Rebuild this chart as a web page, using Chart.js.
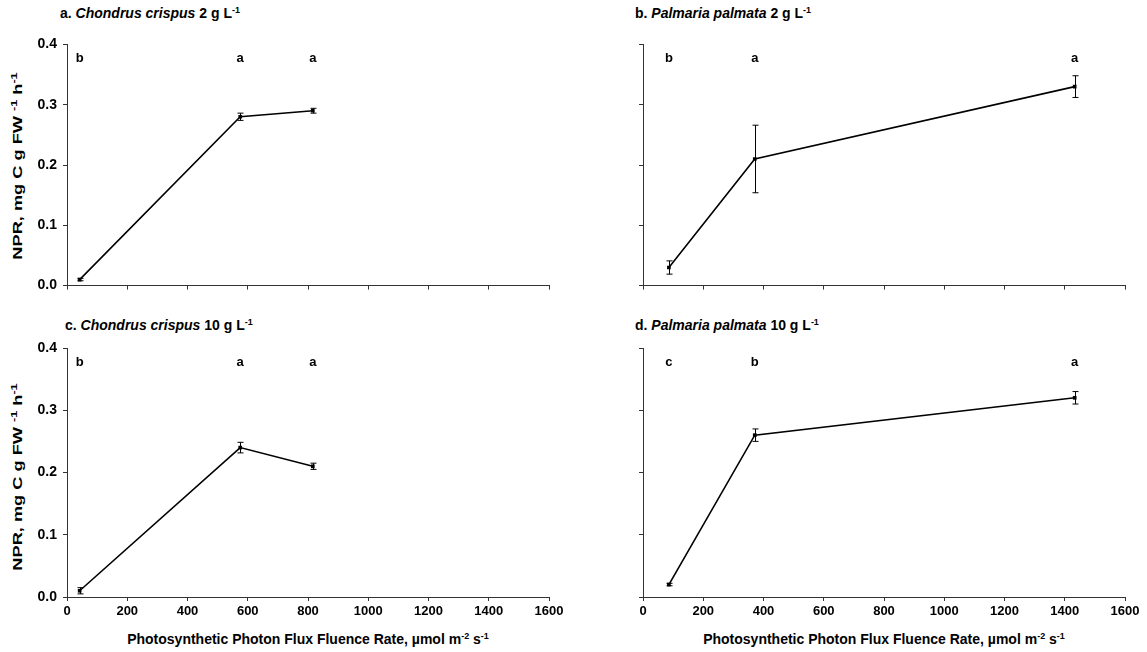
<!DOCTYPE html>
<html>
<head>
<meta charset="utf-8">
<script src="https://cdn.jsdelivr.net/npm/chart.js@4.4.0/dist/chart.umd.min.js"></script>
<style>
  html, body { margin: 0; padding: 0; background: #fff; }
  body { width: 1147px; height: 652px; position: relative; overflow: hidden;
         font-family: "Liberation Sans", Arial, sans-serif; color: #000; }
  .panel { position: absolute; }
  .title { position: absolute; font-weight: bold; font-size: 14px; white-space: nowrap; }
  .ytitle { position: absolute; font-weight: bold; font-size: 13px; white-space: nowrap;
            transform: translate(-50%, -50%) rotate(-90deg) scaleX(1.4); }
  .xtitle { position: absolute; font-weight: bold; font-size: 14px; white-space: nowrap;
            transform: translateX(-50%); }
  sup { font-size: 9px; vertical-align: 5px; line-height: 0; }
</style>
</head>
<body>

<div class="title" style="left:60px; top:5px">a. <i>Chondrus crispus</i> 2 g L<sup>-1</sup></div>
<div class="title" style="left:635px; top:5px">b. <i>Palmaria palmata</i> 2 g L<sup>-1</sup></div>
<div class="title" style="left:65px; top:317px">c. <i>Chondrus crispus</i> 10 g L<sup>-1</sup></div>
<div class="title" style="left:635px; top:317px">d. <i>Palmaria palmata</i> 10 g L<sup>-1</sup></div>

<div class="ytitle" style="left:17px; top:166px">NPR, mg C g FW <sup>-1</sup> h<sup>-1</sup></div>
<div class="ytitle" style="left:17px; top:477px">NPR, mg C g FW <sup>-1</sup> h<sup>-1</sup></div>

<div class="xtitle" style="left:308px; top:631px">Photosynthetic Photon Flux Fluence Rate, µmol m<sup>-2</sup> s<sup>-1</sup></div>
<div class="xtitle" style="left:884px; top:631px">Photosynthetic Photon Flux Fluence Rate, µmol m<sup>-2</sup> s<sup>-1</sup></div>

<div class="panel" style="left:0px; top:30px"><canvas id="panelA" width="575" height="270"></canvas></div>
<div class="panel" style="left:575px; top:30px"><canvas id="panelB" width="572" height="270"></canvas></div>
<div class="panel" style="left:0px; top:330px"><canvas id="panelC" width="575" height="300"></canvas></div>
<div class="panel" style="left:575px; top:330px"><canvas id="panelD" width="572" height="300"></canvas></div>

<script>
/* ─── Datos (PPFD, µmol m-2 s-1 ; NPR, mg C g FW-1 h-1) ─── */
const ppfdChondrus = [42, 575, 816];
const ppfdPalmaria = [86, 371, 1433];

const nprA = [0.01, 0.28, 0.29];
const errA = [0.002, 0.006, 0.004];
const lettersA = ['b', 'a', 'a'];

const nprB = [0.03, 0.21, 0.33];
const errB = [0.011, 0.056, 0.018];
const lettersB = ['b', 'a', 'a'];

const nprC = [0.01, 0.24, 0.21];
const errC = [0.005, 0.0085, 0.005];
const lettersC = ['b', 'a', 'a'];

const nprD = [0.02, 0.26, 0.32];
const errD = [0.002, 0.01, 0.01];
const lettersD = ['c', 'b', 'a'];

const xTicks = [0, 200, 400, 600, 800, 1000, 1200, 1400, 1600];
const yTicks = [0.0, 0.1, 0.2, 0.3, 0.4];

const FONT = '"Liberation Sans", Arial, sans-serif';
const LETTER_Y = 0.377;   // altura de las letras de significancia

/* ─── Barras de error + letras ─── */
const annotPlugin = {
  id: 'annot',
  afterDatasetsDraw(chart, args, opts) {
    const { ctx, scales: { x, y } } = chart;
    const pts = chart.data.datasets[0].data;
    ctx.save();
    ctx.strokeStyle = '#000';
    ctx.lineWidth = 1;
    pts.forEach((p, i) => {
      const px = Math.round(x.getPixelForValue(p.x)) + 0.5;
      const top = y.getPixelForValue(p.y + opts.err[i]);
      const bot = y.getPixelForValue(p.y - opts.err[i]);
      ctx.beginPath();
      ctx.moveTo(px, top); ctx.lineTo(px, bot);
      ctx.moveTo(px - 3, top); ctx.lineTo(px + 3, top);
      ctx.moveTo(px - 3, bot); ctx.lineTo(px + 3, bot);
      ctx.stroke();
    });
    ctx.fillStyle = '#000';
    ctx.font = 'bold 13px ' + FONT;
    ctx.textAlign = 'center';
    ctx.textBaseline = 'middle';
    pts.forEach((p, i) => {
      ctx.fillText(opts.letters[i], x.getPixelForValue(p.x), y.getPixelForValue(LETTER_Y));
    });
    ctx.restore();
  },
};

function makePanel(id, xs, ys, errs, letters, box) {
  new Chart(document.getElementById(id), {
    type: 'scatter',
    data: {
      datasets: [{
        data: xs.map((v, i) => ({ x: v, y: ys[i] })),
        showLine: true,
        borderColor: '#000',
        borderWidth: 1.6,
        pointStyle: 'rect',
        pointRadius: 2.6,
        pointBackgroundColor: '#000',
        pointBorderWidth: 0,
      }],
    },
    options: {
      responsive: false,
      animation: false,
      layout: { padding: { top: box.pt, right: box.pr, left: 0, bottom: 0 } },
      plugins: {
        legend: { display: false },
        tooltip: { enabled: false },
        annot: { err: errs, letters },
      },
      scales: {
        x: {
          type: 'linear',
          min: xTicks[0],
          max: xTicks[xTicks.length - 1],
          afterBuildTicks: s => { s.ticks = xTicks.map(v => ({ value: v })); },
          afterFit: s => { s.height = box.xh; },
          ticks: {
            display: box.xLabels,
            color: '#000',
            padding: 3,
            maxRotation: 0,
            font: { family: FONT, size: 13, weight: 'bold' },
            callback: v => String(v),
          },
          grid: { drawOnChartArea: false, drawTicks: true, tickLength: 4, color: '#333' },
          border: { color: '#333', width: 1 },
        },
        y: {
          min: yTicks[0],
          max: yTicks[yTicks.length - 1],
          afterBuildTicks: s => { s.ticks = yTicks.map(v => ({ value: v })); },
          afterFit: s => { s.width = box.yw; },
          ticks: {
            color: '#000',
            padding: 6,
            font: { family: FONT, size: 14, weight: 'bold' },
            callback: v => (box.yLabels ? Number(v).toFixed(1) : ''),
          },
          grid: { drawOnChartArea: false, drawTicks: true, tickLength: 4, color: '#333' },
          border: { color: '#333', width: 1 },
        },
      },
    },
    plugins: [annotPlugin],
  });
}

/* ─── BOOT ─── */
makePanel('panelA', ppfdChondrus, nprA, errA, lettersA,
  { pt: 8, pr: 26, xh: 13, yw: 67, xLabels: false, yLabels: true });
makePanel('panelB', ppfdPalmaria, nprB, errB, lettersB,
  { pt: 8, pr: 22, xh: 13, yw: 68, xLabels: false, yLabels: false });
makePanel('panelC', ppfdChondrus, nprC, errC, lettersC,
  { pt: 18, pr: 26, xh: 33, yw: 67, xLabels: true, yLabels: true });
makePanel('panelD', ppfdPalmaria, nprD, errD, lettersD,
  { pt: 18, pr: 22, xh: 33, yw: 68, xLabels: true, yLabels: false });
</script>
</body>
</html>
